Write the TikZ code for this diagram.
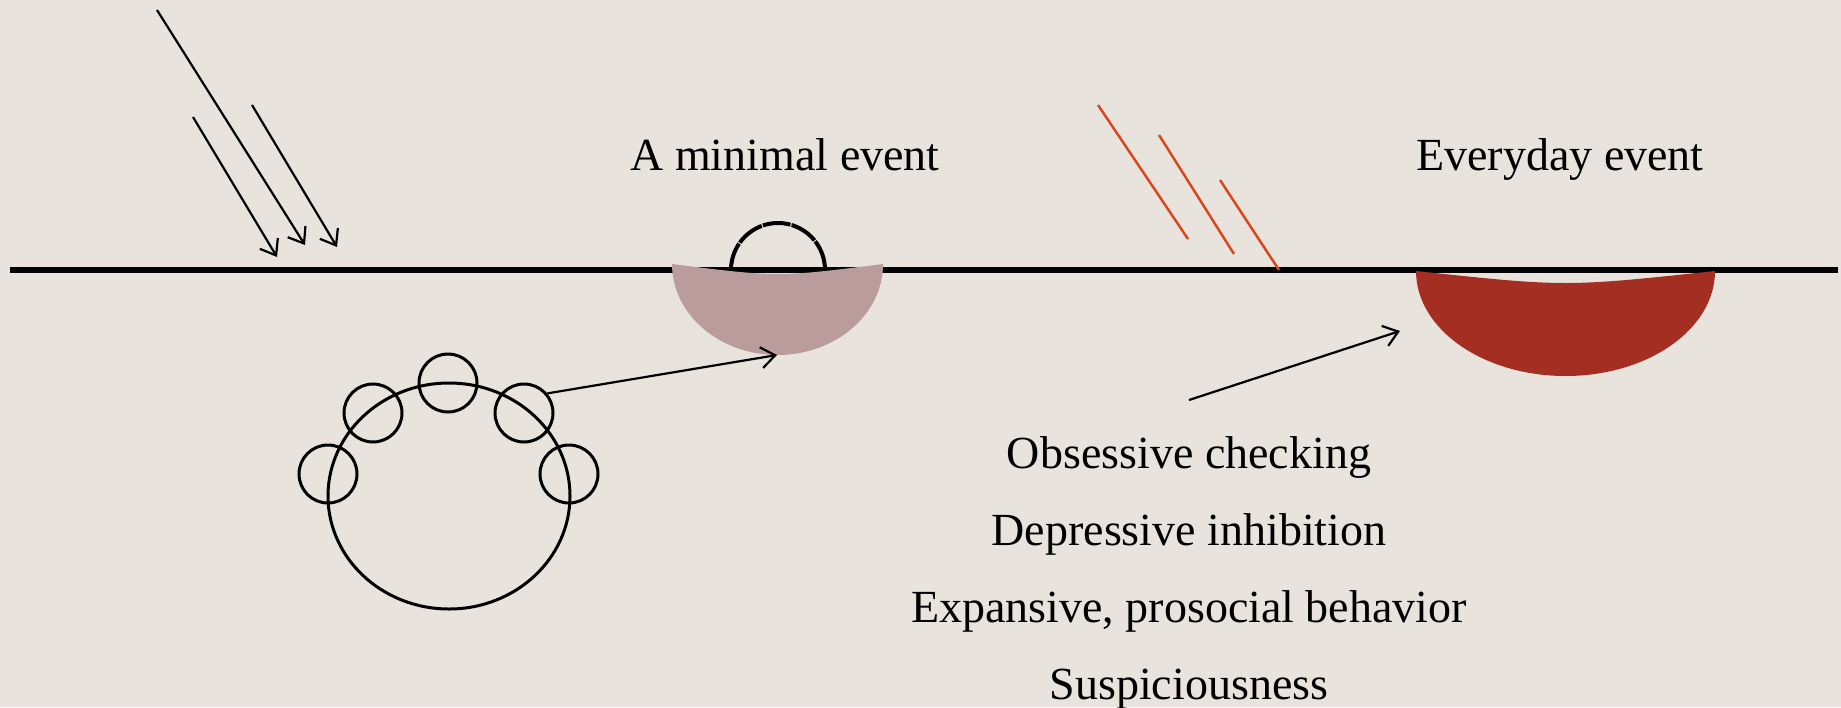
\documentclass[tikz,border=0pt]{standalone}
\usepackage{fontspec}
\setmainfont{Liberation Serif}
\usepackage{xcolor}
\usepackage{tikz}
\usetikzlibrary{arrows.meta, positioning}

\definecolor{paper}{RGB}{232,228,221}
\definecolor{rose}{RGB}{186,156,156}
\definecolor{brick}{RGB}{163,46,33}
\definecolor{flame}{RGB}{217,72,28}

\tikzset{
  barb/.style={-{Straight Barb[length=14pt,width=21pt]}, line width=2.2pt},
  ring/.style={circle, draw, line width=3pt, minimum size=58pt, inner sep=0pt},
  eventtext/.style={anchor=base, font=\fontsize{46}{55}\selectfont},
}

\begin{document}
\begin{tikzpicture}[x=1pt, y=-1pt]
  % Canvas in pixel units, y grows downwards
  \useasboundingbox (0,0) rectangle (1841,707);
  \fill[paper] (0,0) rectangle (1841,707);

  % Ground line
  \coordinate (west) at (10,270);
  \coordinate (east) at (1838,270);
  \draw[line width=5.5pt] (west) -- (east);

  % Incoming rays (black)
  \coordinate (ray1s) at (157,10);   \coordinate (ray1e) at (305,245);
  \coordinate (ray2s) at (193,117);  \coordinate (ray2e) at (277,257);
  \coordinate (ray3s) at (252,105);  \coordinate (ray3e) at (337,247);
  \draw[barb] (ray1s) -- (ray1e);
  \draw[barb] (ray2s) -- (ray2e);
  \draw[barb] (ray3s) -- (ray3e);

  % Incoming rays (red)
  \coordinate (flame1s) at (1098,105); \coordinate (flame1e) at (1188,239);
  \coordinate (flame2s) at (1159,135); \coordinate (flame2e) at (1234,254);
  \coordinate (flame3s) at (1220,180); \coordinate (flame3e) at (1279,270);
  \draw[flame, line width=2.5pt] (flame1s) -- (flame1e);
  \draw[flame, line width=2.5pt] (flame2s) -- (flame2e);
  \draw[flame, line width=2.5pt] (flame3s) -- (flame3e);

  % Minimal event: small dent and dome
  \fill[rose] (672,264) arc (180:0:105.5 and 91)
    .. controls (777.5,277.3) .. (672,264) -- cycle;
  \draw[line width=4pt, dash pattern=on 28pt off 1.2pt] (731,270) arc (180:360:47);
  \coordinate (minbottom) at (777,355);

  % Everyday event: large dent
  \fill[brick] (1416,271) arc (180:0:149.5 and 105)
    .. controls (1565.5,287) .. (1416,271) -- cycle;
  \coordinate (everybottom) at (1400,331);

  % Self with its rings
  \draw[line width=3pt] (449,496) ellipse (121 and 113);
  \node[ring] (c1) at (328,474) {};
  \node[ring] (c2) at (373,413) {};
  \node[ring] (c3) at (448,383) {};
  \node[ring] (c4) at (524,413) {};
  \node[ring] (c5) at (569,474) {};
  \draw[barb] (c4.40) -- (minbottom);

  % Labels
  \node[eventtext] (minimal) at (785,170) {A minimal event};
  \node[eventtext] (everyday) at (1560,170) {Everyday event};

  % Responses
  \foreach \txt [count=\k] in {Obsessive checking, Depressive inhibition,
      {Expansive, prosocial behavior}, Suspiciousness}
    \node[eventtext] (resp\k) at (1189,391+77*\k) {\txt};
  \coordinate (reach) at (1189,400);
  \draw[barb] (reach) -- (everybottom);
\end{tikzpicture}
\end{document}
